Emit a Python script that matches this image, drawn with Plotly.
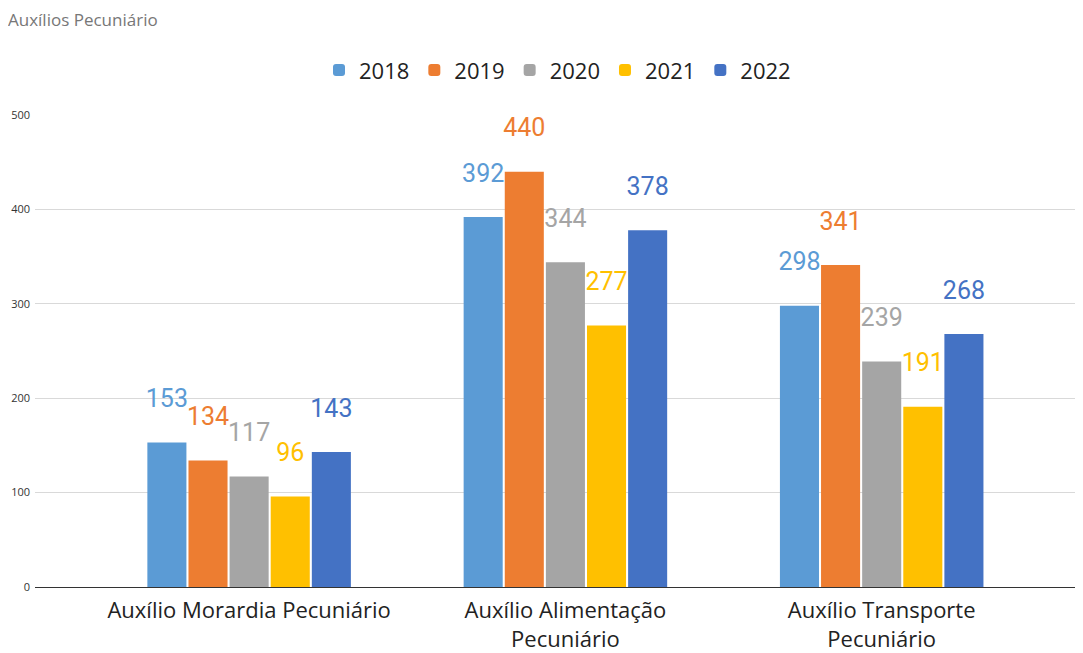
import plotly.graph_objects as go

categories = ["Auxílio Morardia Pecuniário", "Auxílio Alimentação<br>Pecuniário", "Auxílio Transporte<br>Pecuniário"]
years = ["2018", "2019", "2020", "2021", "2022"]
v2018 = [153, 392, 298]
v2019 = [134, 440, 341]
v2020 = [117, 344, 239]
v2021 = [96, 277, 191]
v2022 = [143, 378, 268]
series = [v2018, v2019, v2020, v2021, v2022]
colors = ["#5B9BD5", "#ED7D31", "#A5A5A5", "#FFC000", "#4472C4"]

fig = go.Figure()
for yr, vals, c in zip(years, series, colors):
    fig.add_trace(go.Bar(x=categories, y=vals, name=yr, marker_color=c,
                         marker_line_width=0, marker_cornerradius=2, offsetgroup=yr))
# invisible bars sitting on top of each real bar, used only to lift the value labels
for yr, vals, c in zip(years, series, colors):
    fig.add_trace(go.Bar(x=categories, y=[28] * len(vals), base=vals, offsetgroup=yr,
                         marker_color="rgba(0,0,0,0)", marker_line_width=0,
                         showlegend=False, hoverinfo="skip",
                         text=[str(v) for v in vals], textposition="outside",
                         constraintext="none", cliponaxis=False,
                         textfont=dict(family="Roboto", size=25, color=c)))

# page body has an 8px margin, so the figure is a bit smaller than the window
fig.update_layout(
    width=1075, height=645,
    barmode="group", bargap=0.35, bargroupgap=0.05,
    plot_bgcolor="white", paper_bgcolor="white",
    margin=dict(l=27, r=3, t=107, b=66),
    title=dict(text="Auxílios Pecuniário", x=0, xref="container", xanchor="left",
               y=0.981, yanchor="middle",
               font=dict(family="Open Sans", size=17, color="#777777")),
    legend=dict(orientation="h", x=0.5, xanchor="center", y=1.095, yanchor="middle",
                font=dict(family="Open Sans", size=22, color="#222222"), itemwidth=30,
                traceorder="normal"),
    font=dict(family="Open Sans"),
)
fig.update_yaxes(range=[0, 500], dtick=100, gridcolor="#D9D9D9", showline=False,
                 zeroline=True, zerolinecolor="#333333", zerolinewidth=1,
                 tickfont=dict(size=11, color="#333333"), ticklen=0, ticklabelstandoff=4,
                 automargin=False)
fig.update_xaxes(range=[-0.677, 2.627], tickfont=dict(size=22, color="#222222"),
                 showline=False, ticklabelstandoff=8, automargin=False)

fig.write_html("out.html")
